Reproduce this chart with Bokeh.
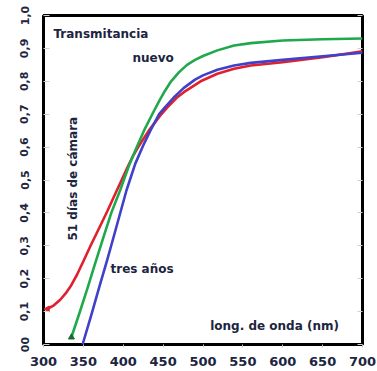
import math
from bokeh.plotting import figure
from bokeh.models import Range1d, FixedTicker, LinearAxis
from bokeh.core.properties import value
from bokeh.embed import file_html
from bokeh.resources import INLINE

# Data
wl_nuevo = [335, 345, 355, 363, 375, 385, 396, 408, 417, 426, 437, 445, 452, 460, 470, 480, 490, 500, 518, 539, 560, 600, 650, 700]
t_nuevo = [0.022, 0.095, 0.17, 0.233, 0.325, 0.40, 0.468, 0.549, 0.60, 0.65, 0.703, 0.74, 0.77, 0.80, 0.828, 0.85, 0.865, 0.877, 0.894, 0.909, 0.916, 0.924, 0.928, 0.93]

wl_camara = [305, 313, 321, 328, 334, 342, 350, 359, 370, 380, 390, 398, 405, 412, 420, 432, 446, 455, 467, 476, 497, 518, 539, 560, 600, 650, 700]
t_camara = [0.108, 0.119, 0.136, 0.156, 0.177, 0.212, 0.253, 0.30, 0.355, 0.405, 0.458, 0.50, 0.537, 0.572, 0.605, 0.65, 0.695, 0.72, 0.75, 0.767, 0.80, 0.823, 0.838, 0.848, 0.858, 0.873, 0.891]

wl_tres = [349, 360, 370, 380, 390, 404, 415, 425, 434, 445, 452, 463, 476, 490, 500, 518, 539, 560, 600, 650, 700]
t_tres = [0.0, 0.09, 0.175, 0.258, 0.345, 0.468, 0.549, 0.605, 0.65, 0.70, 0.72, 0.75, 0.78, 0.805, 0.818, 0.835, 0.848, 0.856, 0.865, 0.876, 0.887]

x_ticks = [300, 350, 400, 450, 500, 550, 600, 650, 700]
y_ticks = [0.0, 0.1, 0.2, 0.3, 0.4, 0.5, 0.6, 0.7, 0.8, 0.9, 1.0]
y_tick_labels = ["00", "0,1", "0,2", "0,3", "0,4", "0,5", "0,6", "0,7", "0,8", "0,9", "1,0"]

FONT = "DejaVu Sans"
TXT = "#1c2540"

p = figure(width=377, height=371, output_backend="svg", toolbar_location=None,
           x_range=Range1d(300, 700), y_range=Range1d(0, 1.0),
           min_border_left=43, min_border_right=15, min_border_top=15, min_border_bottom=27)
p.background_fill_color = "white"
p.border_fill_color = "white"
p.outline_line_color = "black"
p.outline_line_width = 3
p.xgrid.visible = False
p.ygrid.visible = False

xa = p.xaxis[0]
xa.ticker = FixedTicker(ticks=x_ticks)
xa.axis_line_color = None
xa.major_tick_line_color = "#c8c8c8"
xa.major_tick_out = 3
xa.major_tick_in = 0
xa.minor_tick_line_color = None
xa.major_label_standoff = 9
xa.major_label_text_font = FONT
xa.major_label_text_font_style = "bold"
xa.major_label_text_font_size = "13px"
xa.major_label_text_color = TXT

ya = p.yaxis[0]
ya.ticker = FixedTicker(ticks=y_ticks)
ya.major_label_overrides = {t: lab for t, lab in zip(y_ticks, y_tick_labels)}
ya.major_label_orientation = "vertical"
ya.axis_line_color = None
ya.major_tick_line_color = "#d0d0d0"
ya.major_tick_out = 0
ya.major_tick_in = 6
ya.minor_tick_line_color = None
ya.major_label_standoff = 15
ya.major_label_text_font = FONT
ya.major_label_text_font_style = "bold"
ya.major_label_text_font_size = "11px"
ya.major_label_text_color = TXT

ra = LinearAxis(ticker=FixedTicker(ticks=y_ticks))
ra.axis_line_color = None
ra.major_tick_line_color = "#d0d0d0"
ra.major_tick_out = 0
ra.major_tick_in = 5
ra.minor_tick_line_color = None
ra.major_label_text_color = None
ra.major_label_text_font_size = "1px"
p.add_layout(ra, "right")

RED, BLUE, GREEN = "#e0202e", "#4040c8", "#20a84c"
p.line(wl_camara, t_camara, line_color=RED, line_width=2.6, line_join="round")
p.line(wl_tres, t_tres, line_color=BLUE, line_width=2.6, line_join="round")
p.line(wl_nuevo, t_nuevo, line_color=GREEN, line_width=2.6, line_join="round")
p.scatter(wl_camara[:1], t_camara[:1], marker="triangle", size=6, angle=math.pi / 2,
          fill_color=RED, line_color=RED)
p.scatter(wl_nuevo[:1], t_nuevo[:1], marker="triangle", size=6,
          fill_color="#1a6a30", line_color="#1a6a30")

kw = dict(text_font=value(FONT), text_font_style="bold", text_font_size="12px", text_color=TXT)
p.text(x=[312.5], y=[0.945], text=["Transmitancia"], text_align="left", text_baseline="middle", **kw)
p.text(x=[411.5], y=[0.872], text=["nuevo"], text_align="left", text_baseline="middle", **kw)
p.text(x=[384], y=[0.231], text=["tres años"], text_align="left", text_baseline="middle", **kw)
p.text(x=[509], y=[0.056], text=["long. de onda (nm)"], text_align="left", text_baseline="middle", **kw)
p.text(x=[337.6], y=[0.504], text=["51 días de cámara"], angle=math.pi / 2,
       text_align="center", text_baseline="middle", **kw)

open("out.html", "w").write(file_html(p, INLINE))
